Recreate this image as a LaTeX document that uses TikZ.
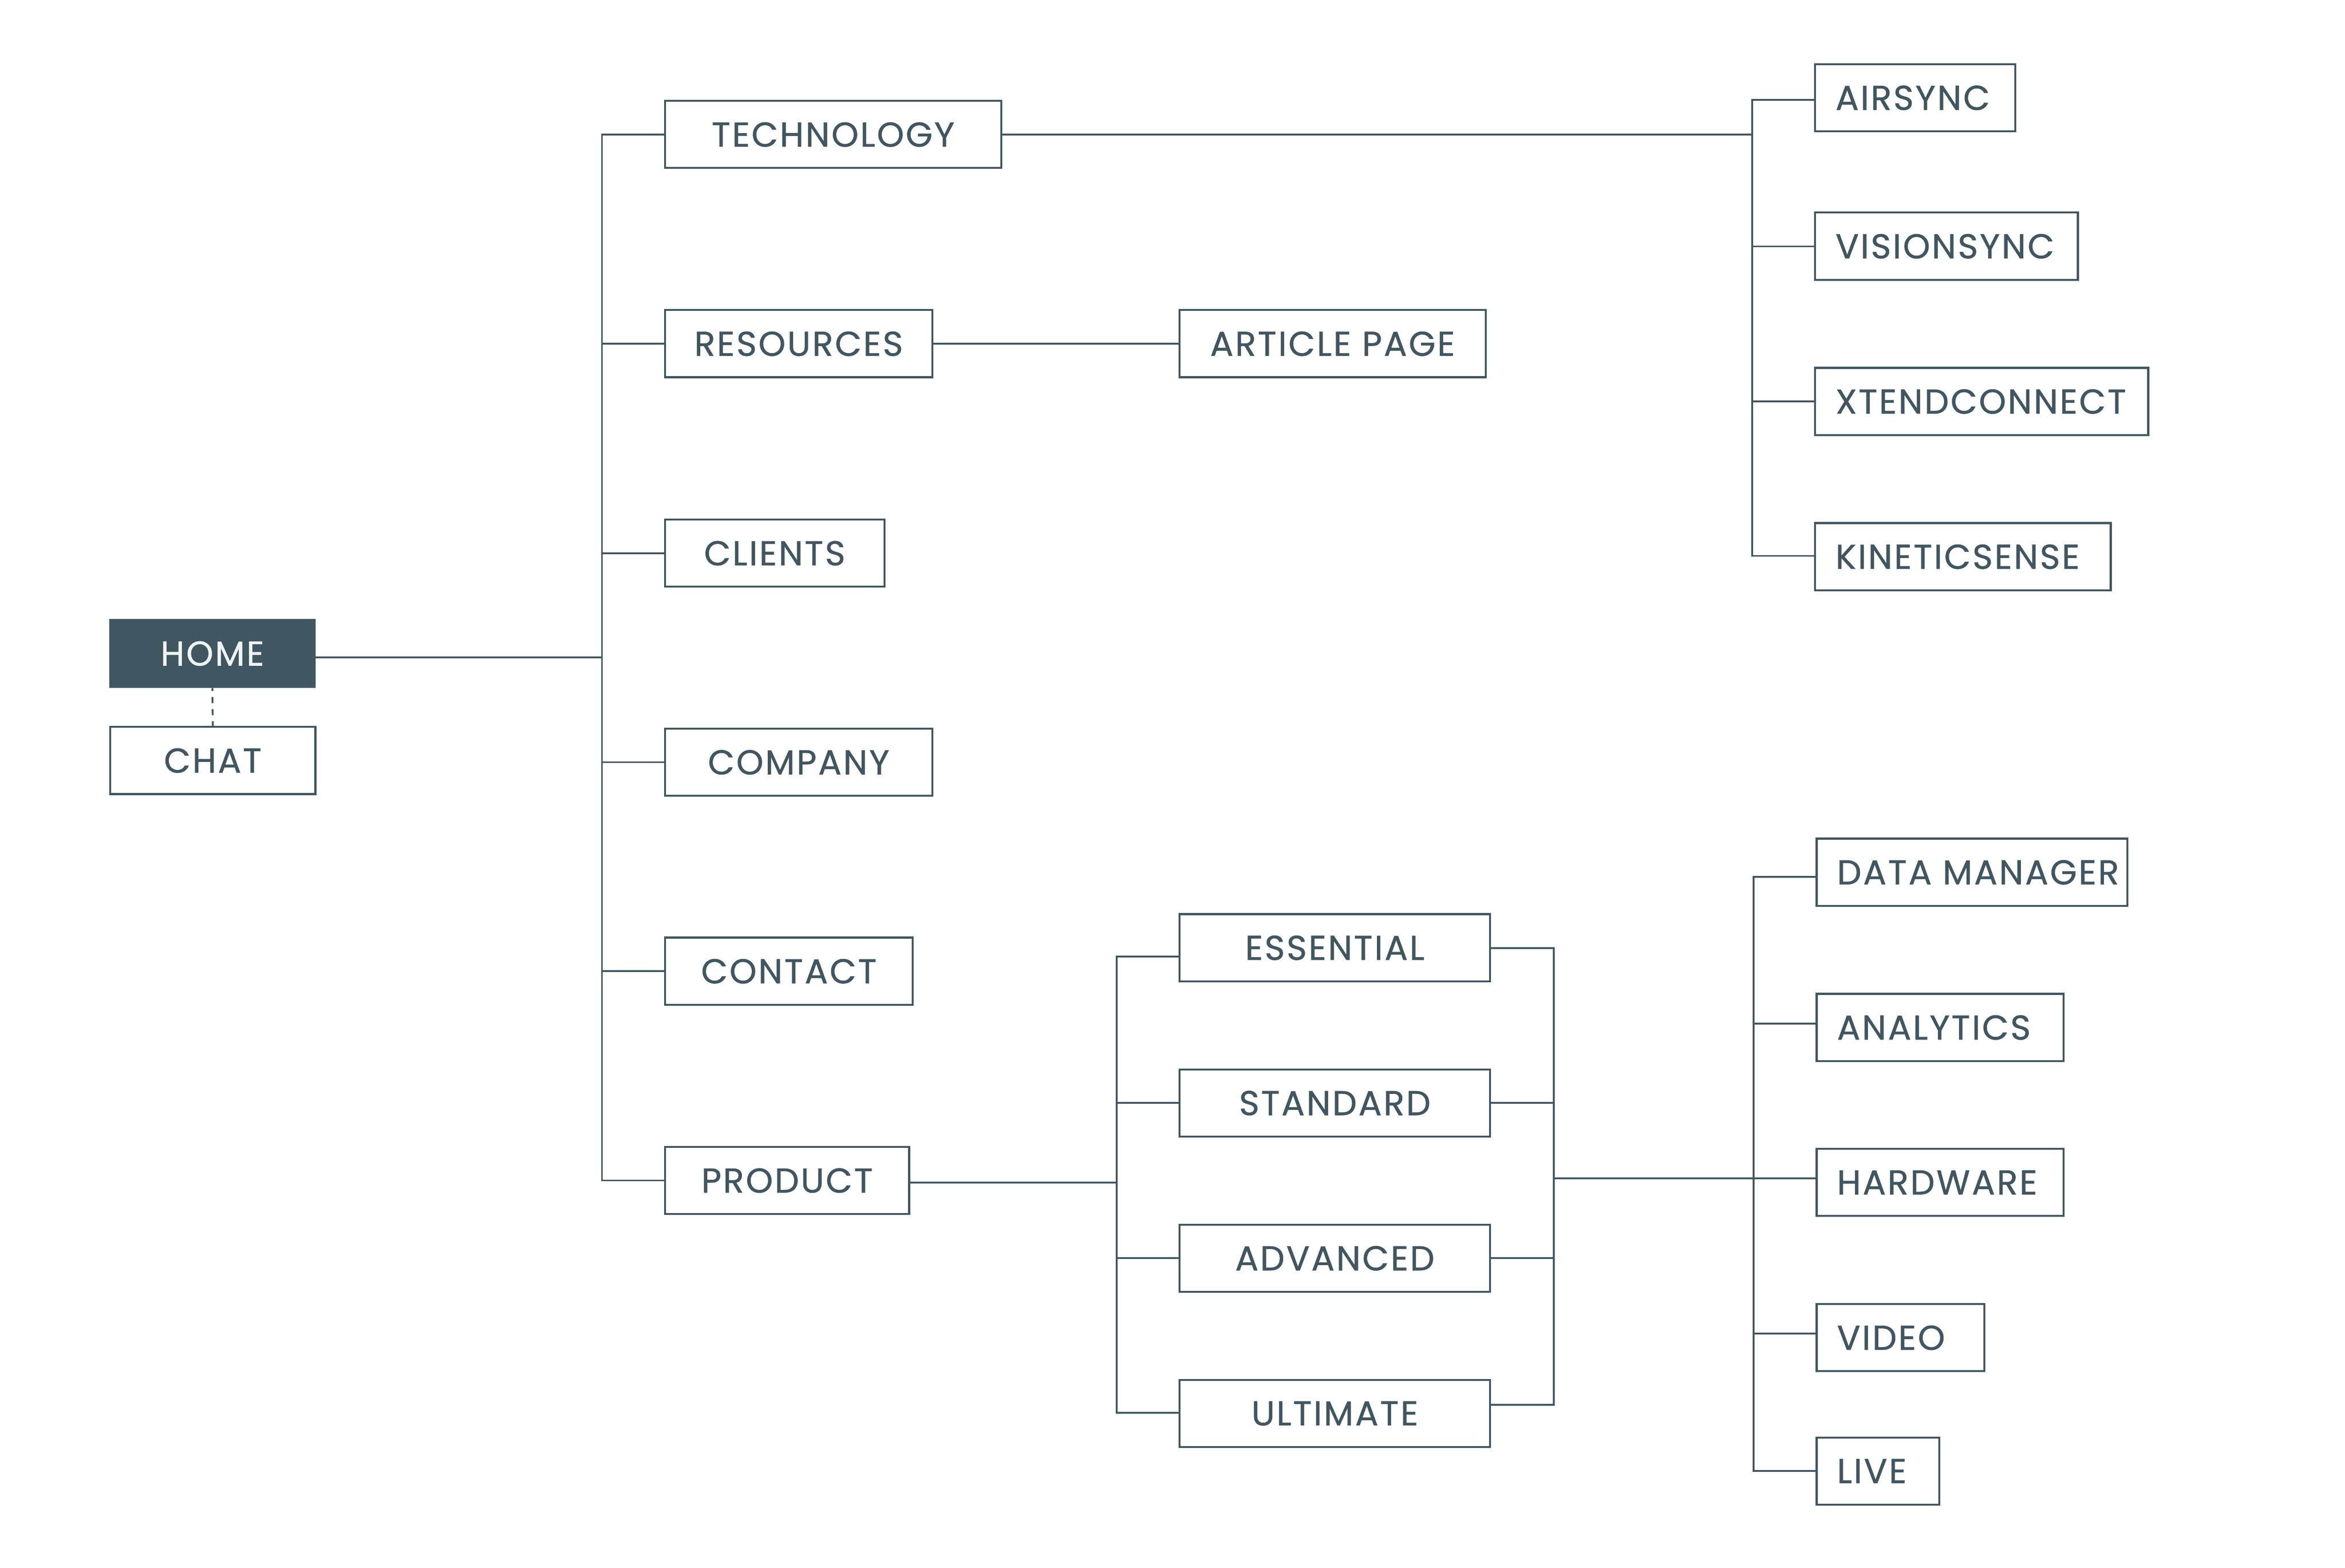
\documentclass[tikz,border=0pt]{standalone}
\usepackage{fontspec}
\setmainfont{Poppins}[LetterSpace=5,FakeBold=0.8]
\definecolor{ink}{HTML}{405660}
\definecolor{paper}{HTML}{EEF3F3}
\newcommand\lefttext[2]{\makebox[#1][l]{#2}}
\begin{document}
\begin{tikzpicture}[x=1pt,y=-1pt,
  box/.style={draw=ink, line width=1.3pt, minimum height=44.4pt, inner sep=0pt,
    text=ink, font=\fontsize{22.8}{24}\selectfont, text depth=0pt},
  wire/.style={draw=ink, line width=1.2pt, line join=miter},
  dashwire/.style={draw=ink, line width=1.2pt, dash pattern=on 4pt off 4pt, dash phase=2pt}]
\useasboundingbox (0,0) rectangle (1550,1036.6);
% level 0
\node[box, minimum width=135.1pt, fill=ink, text=paper] (home) at (140.4,432.0) {HOME};
\node[box, minimum width=135.6pt] (chat) at (140.65,502.75) {CHAT};
% level 1
\node[box, minimum width=222.2pt] (tech) at (550.65,88.9) {TECHNOLOGY};
\node[box, minimum width=176.7pt] (res) at (527.9,227.2) {RESOURCES};
\node[box, minimum width=145.0pt] (cli) at (512.05,365.7) {CLIENTS};
\node[box, minimum width=176.7pt] (comp) at (527.9,503.9) {COMPANY};
\node[box, minimum width=163.8pt] (cont) at (521.45,642.05) {CONTACT};
\node[box, minimum width=161.4pt] (prod) at (520.25,780.4) {PRODUCT};
% level 2
\node[box, minimum width=202.3pt] (art) at (880.8,227.2) {ARTICLE PAGE};
\node[box, minimum width=132.2pt] (air) at (1265.85,64.6) {\lefttext{105.2pt}{AIRSYNC}};
\node[box, minimum width=173.7pt] (vis) at (1286.6,162.75) {\lefttext{146.7pt}{VISIONSYNC}};
\node[box, minimum width=220.2pt] (xte) at (1309.85,265.4) {\lefttext{193.2pt}{XTENDCONNECT}};
\node[box, minimum width=195.4pt] (kin) at (1297.45,368.0) {\lefttext{168.4pt}{KINETICSENSE}};
\node[box, minimum width=205.3pt] (ess) at (882.3,626.55) {ESSENTIAL};
\node[box, minimum width=205.3pt] (std) at (882.3,729.2) {STANDARD};
\node[box, minimum width=205.3pt] (adv) at (882.3,831.8) {ADVANCED};
\node[box, minimum width=205.3pt] (ult) at (882.3,934.4) {ULTIMATE};
% level 3
\node[box, minimum width=205.3pt] (dm) at (1303.4,576.65) {\lefttext{178.3pt}{DATA MANAGER}};
\node[box, minimum width=163.3pt] (ana) at (1282.4,679.25) {\lefttext{136.3pt}{ANALYTICS}};
\node[box, minimum width=163.3pt] (hw) at (1282.4,781.7) {\lefttext{136.3pt}{HARDWARE}};
\node[box, minimum width=110.9pt] (vid) at (1256.2,884.35) {\lefttext{83.9pt}{VIDEO}};
\node[box, minimum width=81.2pt] (live) at (1241.35,972.55) {\lefttext{54.2pt}{LIVE}};
% home links
\draw[dashwire] (home.south) -- (chat.north);
\coordinate (hj) at (397.9,434.6);
\draw[wire] (hj -| home.east) -- (hj);
% trunk 1
\coordinate (ta) at (397.9,0);
\draw[wire] (tech.west) -- (tech.west -| ta) -- (prod.west -| ta) -- (prod.west);
\foreach \n in {res,cli,comp,cont}{\draw[wire] (\n.west -| ta) -- (\n.west);}
% resources
\draw[wire] (res.east) -- (art.west);
% technology
\coordinate (tb) at (1158.1,0);
\draw[wire] (tech.east) -- (tech.east -| tb);
\coordinate (tb1) at (1158.1,66.1);
\coordinate (tb2) at (1158.1,162.9);
\coordinate (tb3) at (1158.1,265.4);
\coordinate (tb4) at (1158.1,367.5);
\draw[wire] (tb1 -| air.west) -- (tb1) -- (tb4) -- (tb4 -| kin.west);
\draw[wire] (tb2) -- (tb2 -| vis.west);
\draw[wire] (tb3) -- (tb3 -| xte.west);
% product
\coordinate (pj) at (738.0,781.7);
\draw[wire] (pj -| prod.east) -- (pj);
\coordinate (c1) at (738.0,632.3);
\coordinate (c2) at (738.0,729.2);
\coordinate (c3) at (738.0,831.6);
\coordinate (c4) at (738.0,934.1);
\draw[wire] (c1 -| ess.west) -- (c1) -- (c4) -- (c4 -| ult.west);
\draw[wire] (c2) -- (c2 -| std.west);
\draw[wire] (c3) -- (c3 -| adv.west);
\coordinate (d1) at (1027.1,626.7);
\coordinate (d2) at (1027.1,729.2);
\coordinate (d3) at (1027.1,831.6);
\coordinate (d4) at (1027.1,928.8);
\draw[wire] (d1 -| ess.east) -- (d1) -- (d4) -- (d4 -| ult.east);
\draw[wire] (d2 -| std.east) -- (d2);
\draw[wire] (d3 -| adv.east) -- (d3);
\coordinate (mid) at (1027.1,779.1);
\draw[wire] (mid) -- (mid -| hw.west);
\coordinate (e1) at (1159.1,579.8);
\coordinate (e2) at (1159.1,676.6);
\coordinate (e4) at (1159.1,881.5);
\coordinate (e5) at (1159.1,972.4);
\draw[wire] (e1 -| dm.west) -- (e1) -- (e5) -- (e5 -| live.west);
\draw[wire] (e2) -- (e2 -| ana.west);
\draw[wire] (e4) -- (e4 -| vid.west);
\end{tikzpicture}
\end{document}
